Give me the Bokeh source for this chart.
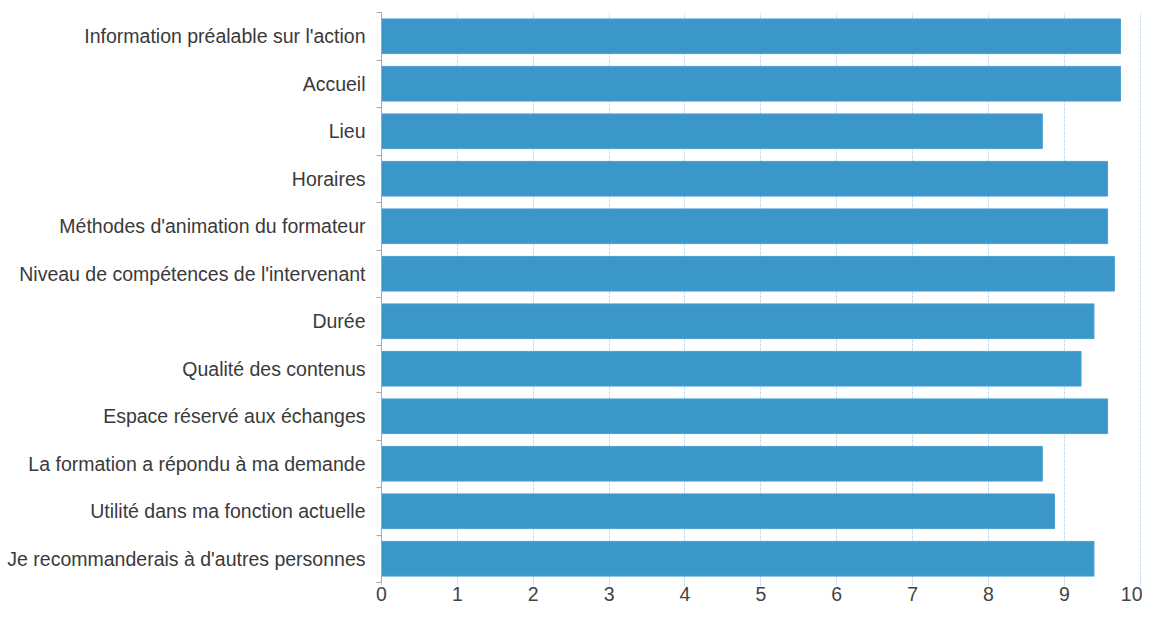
from bokeh.plotting import figure
from bokeh.models import FixedTicker, ColumnDataSource
from bokeh.embed import file_html
from bokeh.resources import INLINE

categories = [
    "Information préalable sur l'action",
    "Accueil",
    "Lieu",
    "Horaires",
    "Méthodes d'animation du formateur",
    "Niveau de compétences de l'intervenant",
    "Durée",
    "Qualité des contenus",
    "Espace réservé aux échanges",
    "La formation a répondu à ma demande",
    "Utilité dans ma fonction actuelle",
    "Je recommanderais à d'autres personnes",
]
scores = [9.74, 9.74, 8.71, 9.57, 9.57, 9.66, 9.39, 9.22, 9.57, 8.71, 8.87, 9.39]
x_ticks = [0, 1, 2, 3, 4, 5, 6, 7, 8, 9, 10]

n = len(categories)
ypos = [n - 0.5 - i for i in range(n)]
src = ColumnDataSource(dict(cat=categories, score=scores, y=ypos))

p = figure(width=1142, height=603, x_range=(0, 10.03), y_range=(0, n),
           output_backend="svg", toolbar_location=None,
           min_border_left=381, min_border_right=0, min_border_top=12, min_border_bottom=0)
p.outline_line_color = None
p.background_fill_color = "white"

p.hbar(y="y", right="score", left=0, height=0.73, source=src,
       fill_color="#3b96ca", line_color="#4ca1d1", line_width=1)

# x axis
xa = p.xaxis[0]
xa.ticker = FixedTicker(ticks=x_ticks, minor_ticks=[])
xa.axis_line_color = None
xa.major_tick_line_color = "#c4dcef"
xa.major_tick_out = 3
xa.major_tick_in = 0
xa.major_label_standoff = 1
xa.major_label_text_font = "Liberation Sans"
xa.major_label_text_font_size = "19.5px"
xa.major_label_text_color = "#444444"

# y axis
ya = p.yaxis[0]
ya.ticker = FixedTicker(ticks=ypos, minor_ticks=list(range(n + 1)))
ya.major_label_overrides = {y: c for y, c in zip(ypos, categories)}
ya.axis_line_color = "#a8a8a8"
ya.major_tick_line_color = None
ya.major_tick_out = 0
ya.major_tick_in = 0
ya.minor_tick_line_color = "#a8a8a8"
ya.minor_tick_out = 5
ya.minor_tick_in = 0
ya.major_label_standoff = 11
ya.major_label_text_font = "Liberation Sans"
ya.major_label_text_font_size = "19.5px"
ya.major_label_text_color = "#3a3a3a"

p.ygrid.grid_line_color = None
p.xgrid.ticker = FixedTicker(ticks=x_ticks[1:])
p.xgrid.grid_line_color = "#c4dcef"
p.xgrid.grid_line_width = 1
p.xgrid.grid_line_dash = "3 1"

open("out.html", "w").write(file_html(p, INLINE))
